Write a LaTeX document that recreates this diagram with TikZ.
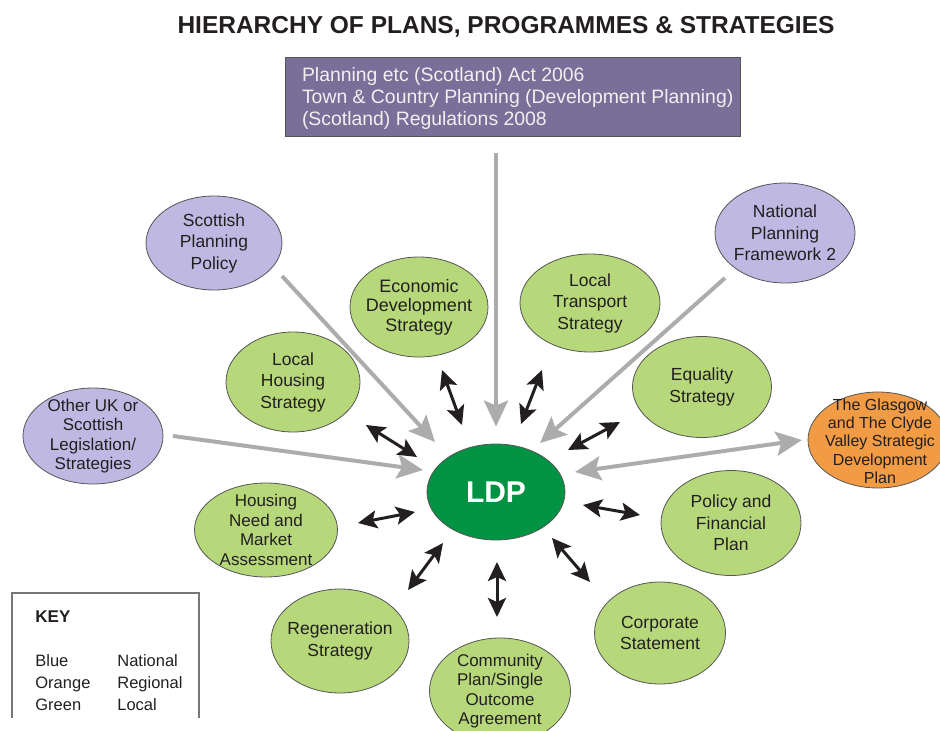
\documentclass[tikz,border=0pt]{standalone}
\usepackage{fontspec}
\setmainfont{Liberation Sans}
\usetikzlibrary{shapes.geometric,arrows.meta}

\definecolor{localgreen}{RGB}{182,216,122}
\definecolor{nationalblue}{RGB}{191,184,226}
\definecolor{regionalorange}{RGB}{242,155,69}
\definecolor{ldpgreen}{RGB}{0,147,68}
\definecolor{boxpurple}{RGB}{121,111,152}
\definecolor{arrowgrey}{RGB}{172,172,172}
\definecolor{edgegrey}{RGB}{85,85,85}
\definecolor{textgrey}{RGB}{35,31,32}

\begin{document}
\begin{tikzpicture}[x=1pt,y=-1pt,thick,
  plan node/.style={ellipse,draw=edgegrey,line width=0.8pt,inner sep=0pt},
  local node/.style={plan node,fill=localgreen},
  national node/.style={plan node,fill=nationalblue},
  regional node/.style={plan node,fill=regionalorange},
  ellsize/.style 2 args={minimum width=#1pt,minimum height=#2pt},
  txt/.style={text=textgrey,align=center,inner sep=0pt,font=\fontsize{17.5}{21.5}\selectfont},
  small txt/.style={txt,font=\fontsize{17}{19.5}\selectfont},
  grey arrow/.style={draw=arrowgrey,line width=4pt,-{Stealth[length=26pt,width=24pt,inset=5pt]}},
  grey link/.style={draw=arrowgrey,line width=4pt,{Stealth[length=26pt,width=24pt,inset=5pt]}-{Stealth[length=26pt,width=24pt,inset=5pt]}},
  link/.style={draw=textgrey,line width=3pt,{Stealth[length=19pt,width=18pt,inset=4pt]}-{Stealth[length=19pt,width=18pt,inset=4pt]}}]

            \useasboundingbox (0,0) rectangle (940,731);

            \node[font=\fontsize{24.5}{26}\selectfont\bfseries,text=textgrey] (0) at (506,27) {HIERARCHY OF PLANS, PROGRAMMES \& STRATEGIES};

            \node[draw=edgegrey,fill=boxpurple,minimum width=455pt,minimum height=79pt,
              label={[anchor=west,xshift=17pt,yshift=-1.5pt,text=white!94!black,align=left,inner sep=0pt,font=\fontsize{19.4}{22}\selectfont]west:Planning etc (Scotland) Act 2006\\Town \& Country Planning (Development Planning)\\(Scotland) Regulations 2008}] (2) at (512.5,96.5) {};

            \node[plan node,fill=ldpgreen,ellsize={138}{96},text=white,font=\fontsize{30}{32}\selectfont\bfseries] (1) at (496,492) {LDP};

            \node[national node,ellsize={136}{94},label={[txt]center:Scottish\\Planning\\Policy}] (3) at (214,243) {};
            \node[national node,ellsize={140}{100},label={[txt]center:National\\Planning\\Framework 2}] (4) at (785,233) {};
            \node[national node,ellsize={140}{96},label={[small txt]center:Other UK or\\Scottish\\Legislation/\\Strategies}] (5) at (93,436) {};
            \node[regional node,ellsize={140}{96},label={[small txt,xshift=2pt,yshift=-1pt,font=\fontsize{16}{18.3}\selectfont]center:The Glasgow\\and The Clyde\\Valley Strategic\\Development\\Plan}] (6) at (878,440) {};

            \node[local node,ellsize={138}{100},label={[txt,font=\fontsize{18}{19.5}\selectfont]center:Economic\\Development\\Strategy}] (7) at (419,307) {};
            \node[local node,ellsize={140}{98},label={[txt]center:Local\\Transport\\Strategy}] (8) at (590,303) {};
            \node[local node,ellsize={134}{100},label={[txt]center:Local\\Housing\\Strategy}] (9) at (293,382) {};
            \node[local node,ellsize={139}{101},label={[txt]center:Equality\\Strategy}] (10) at (702,387) {};
            \node[local node,ellsize={143}{94},label={[small txt]center:Housing\\Need and\\Market\\Assessment}] (11) at (266,530) {};
            \node[local node,ellsize={140}{105},label={[txt]center:Policy and\\Financial\\Plan}] (12) at (731,523) {};
            \node[local node,ellsize={138}{104},label={[txt]center:Regeneration\\Strategy}] (13) at (340,641) {};
            \node[local node,ellsize={131}{102},label={[txt]center:Corporate\\Statement}] (14) at (660,633) {};
            \node[local node,ellsize={141}{106},label={[small txt]center:Community\\Plan/Single\\Outcome\\Agreement}] (15) at (500,691) {};

            \coordinate (3a) at (282,276);
            \coordinate (3b) at (435,442);
            \coordinate (4a) at (725,278);
            \coordinate (4b) at (540,443);
            \coordinate (5a) at (173,436);
            \coordinate (5b) at (423,470);
            \coordinate (6a) at (802,440);
            \coordinate (6b) at (575,472);
            \coordinate (7a) at (442,370);
            \coordinate (7b) at (462,425);
            \coordinate (8a) at (542,370);
            \coordinate (8b) at (521,424);
            \coordinate (9a) at (366,425);
            \coordinate (9b) at (417,457);
            \coordinate (10a) at (620,422);
            \coordinate (10b) at (568,450);
            \coordinate (11a) at (358,523);
            \coordinate (11b) at (415,512);
            \coordinate (12a) at (640,515);
            \coordinate (12b) at (583,505);
            \coordinate (13a) at (408,590);
            \coordinate (13b) at (443,543);
            \coordinate (14a) at (590,582);
            \coordinate (14b) at (552,538);
            \coordinate (15a) at (497,617);
            \coordinate (15b) at (497,562);

            \draw[grey arrow,shorten <=17pt,shorten >=17pt] (2.south -| 1) to (1.north);
            \draw[grey arrow] (3a) to (3b);
            \draw[grey arrow] (4a) to (4b);
            \draw[grey arrow] (5a) to (5b);
            \draw[grey link] (6a) to (6b);

            \draw[link] (7a) to (7b);
            \draw[link] (8a) to (8b);
            \draw[link] (9a) to (9b);
            \draw[link] (10a) to (10b);
            \draw[link] (11a) to (11b);
            \draw[link] (12a) to (12b);
            \draw[link] (13a) to (13b);
            \draw[link] (14a) to (14b);
            \draw[link] (15a) to (15b);

            \draw[draw=edgegrey!80,line width=1.5pt] (12,718) |- (199,593) -- (199,718);
            \node[anchor=west,text=textgrey,inner sep=0pt,font=\fontsize{17}{20}\selectfont\bfseries] (16) at (35,617) {KEY};
            \node[anchor=north west,text=textgrey,inner sep=0pt,font=\fontsize{16.5}{22}\selectfont] (17) at (35,650.6)
              {\begin{tabular}{@{}p{82pt}@{}l@{}}Blue & National\\Orange & Regional\\Green & Local\end{tabular}};

            ;
        \end{tikzpicture}
\end{document}
